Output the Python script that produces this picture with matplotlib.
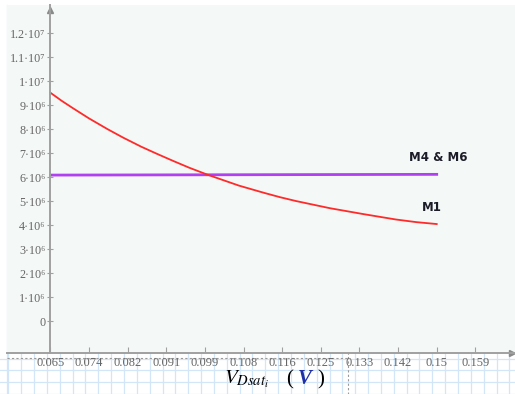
import numpy as np
from matplotlib import pyplot as plt

# drain-saturation voltage sweep (V) and resulting values
v_m1 = [0.065, 0.0675, 0.070, 0.0735, 0.0775, 0.081, 0.085, 0.0885, 0.092,
        0.0955, 0.0995, 0.103, 0.1065, 0.112, 0.1155, 0.119, 0.123, 0.1265,
        0.134, 0.1375, 0.141, 0.1455, 0.150]
m1 = [9.51e6, 9.17e6, 8.86e6, 8.44e6, 8.00e6, 7.64e6, 7.26e6, 6.96e6, 6.67e6,
      6.39e6, 6.10e6, 5.87e6, 5.64e6, 5.34e6, 5.16e6, 5.00e6, 4.84e6, 4.70e6,
      4.45e6, 4.34e6, 4.23e6, 4.12e6, 4.04e6]
v_m46 = [0.065, 0.150]
m46 = [6.08e6, 6.11e6]

x_ticks = [0.065, 0.0735, 0.082, 0.0905, 0.099, 0.1075, 0.116, 0.1245,
           0.133, 0.1415, 0.15, 0.1585]
x_labels = ["0.065", "0.074", "0.082", "0.091", "0.099", "0.108", "0.116",
            "0.125", "0.133", "0.142", "0.15", "0.159"]
y_ticks = [0, 1e6, 2e6, 3e6, 4e6, 5e6, 6e6, 7e6, 8e6, 9e6, 1e7, 1.1e7, 1.2e7]
y_labels = ["0", "1·10⁶", "2·10⁶", "3·10⁶", "4·10⁶", "5·10⁶", "6·10⁶",
            "7·10⁶", "8·10⁶", "9·10⁶", "1·10⁷", "1.1·10⁷", "1.2·10⁷"]

SERIF = ["Liberation Serif", "DejaVu Serif"]
GRID = "#d3e6f7"
TICK = "#666666"

W, H = 515, 394
fig = plt.figure(figsize=(W / 100, H / 100), dpi=100, facecolor="white")

# worksheet paper behind the plot region
bg = fig.add_axes([0, 0, 1, 1])
bg.set_xlim(0, W)
bg.set_ylim(H, 0)
bg.axis("off")
for gx in np.arange(8.3, W, 12.85):
    bg.plot([gx, gx], [352, H], color=GRID, lw=0.9)
for gy in np.arange(358.5, H + 1, 11.7):
    bg.plot([0, W], [gy, gy], color=GRID, lw=0.9)
bg.plot([7, 7], [5, H], color=GRID, lw=0.9)
bg.plot([7, 348], [357.5, 357.5], color="#9a9a9a", lw=0.8, ls=(0, (2, 2)))
bg.plot([348, 348], [352, H], color="#9a9a9a", lw=0.8, ls=(0, (2, 2)))

ax = fig.add_axes([7 / W, 1 - 352.5 / H, (W - 7) / W, (352.5 - 5) / H])
ax.set_facecolor("#f4f8f6")
ax.set_xlim(0.05543, 0.16723)
ax.set_ylim(-1.3125e6, 13.167e6)

for s in ["top", "right"]:
    ax.spines[s].set_visible(False)
ax.spines["left"].set_position(("data", 0.065))
ax.spines["left"].set_color("#a0a0a0")
ax.spines["left"].set_linewidth(1.4)
ax.spines["bottom"].set_color("#a0a0a0")
ax.spines["bottom"].set_linewidth(1.4)

# axis arrow heads
ax.plot([0.065], [0.985], marker="^", ms=5, color="#8a8a8a",
        transform=ax.get_xaxis_transform(), clip_on=False)
ax.plot([0.995], [0], marker=">", ms=5, color="#8a8a8a",
        transform=ax.transAxes, clip_on=False)

ax.set_xticks(x_ticks)
ax.set_xticklabels(x_labels, family=SERIF, fontsize=9, color=TICK)
ax.set_yticks(y_ticks)
ax.set_yticklabels(y_labels, family=SERIF, fontsize=8.7, color=TICK)
ax.tick_params(axis="x", direction="in", length=4, pad=3, color="#a0a0a0")
ax.tick_params(axis="y", direction="inout", length=5, pad=1, color="#a0a0a0")

ax.plot(v_m46, m46, color="#b040f0", lw=2.0)
ax.plot(v_m1, m1, color="#ff2a2a", lw=1.3)

ax.text(0.1503, 6.83e6, "M4 & M6", ha="center", va="center",
        fontsize=8.5, fontweight="bold", color="#1c1c28")
ax.text(0.149, 4.75e6, "M1", ha="center", va="center",
        fontsize=8.5, fontweight="bold", color="#1c1c28")

# axis title below the plot
plt.rcParams["mathtext.fontset"] = "stix"
fig.text(224 / W, 1 - 379 / H, r"$V_{Dsat_i}$", fontsize=15, ha="left",
         va="center", color="black")
fig.text(286 / W, 1 - 380 / H, "(", family=SERIF, fontsize=15, ha="left",
         va="center", color="black")
fig.text(298 / W, 1 - 379 / H, "V", family=SERIF, fontsize=15, ha="left",
         va="center", color="#1f2fa8", fontweight="bold", style="italic")
fig.text(317 / W, 1 - 380 / H, ")", family=SERIF, fontsize=15, ha="left",
         va="center", color="black")

plt.savefig("out.png", dpi=100)
